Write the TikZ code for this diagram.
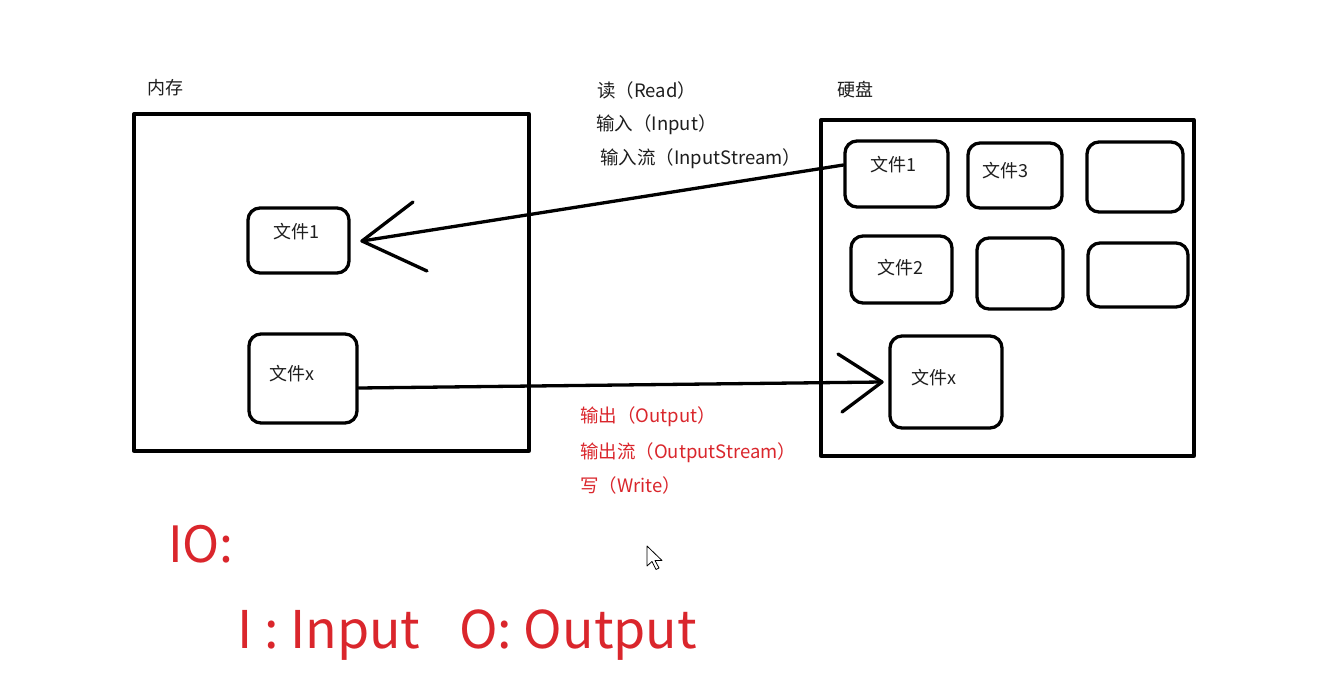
\documentclass[tikz,border=0pt]{standalone}
\usepackage{fontspec}
\setmainfont{Noto Sans CJK SC}
\definecolor{iored}{RGB}{218,38,44}
\definecolor{ink}{RGB}{30,30,30}
\begin{document}
\begin{tikzpicture}[x=1pt,y=-1pt, line join=round, line cap=round,
  frame/.style={draw=black, line width=3.3pt, inner sep=0pt},
  filebox/.style={draw=black, line width=3.3pt, rounded corners=12pt, inner sep=0pt},
  ftext/.style={font=\fontsize{18}{18}\selectfont, text=ink, inner sep=0pt},
  title/.style={font=\fontsize{18}{18}\selectfont, text=ink, inner sep=0pt},
  lbl/.style={font=\fontsize{18.5}{18.5}\selectfont, text=ink, inner sep=0pt, anchor=base west},
  rlbl/.style={lbl, text=iored},
  big/.style={font=\fontsize{52}{52}\selectfont, text=iored, anchor=base west, inner sep=0pt},
  conn/.style={line width=3.3pt}]
\useasboundingbox[fill=white] (0,0) rectangle (1331,685);

% frames
\node[frame, minimum width=395pt, minimum height=337pt] (mem) at (331.5,282.5) {};
\node[frame, minimum width=373pt, minimum height=336pt] (disk) at (1007.5,288) {};
\node[title] (memt) at (165,88) {内存};
\node[title] (diskt) at (855,90) {硬盘};

% memory files
\node[filebox, minimum width=101pt, minimum height=65pt] (mf1) at (298.5,240.5) {};
\node[ftext] (mf1t) at (296,232) {文件1};
\node[filebox, minimum width=108pt, minimum height=89pt] (mfx) at (303,378.5) {};
\node[ftext] (mfxt) at (292,374) {文件x};

% disk files
\node[filebox, minimum width=103pt, minimum height=66pt] (d1) at (896.5,174) {};
\node[ftext] (d1t) at (893,165) {文件1};
\node[filebox, minimum width=94pt, minimum height=65pt] (d3) at (1015,175.5) {};
\node[ftext] (d3t) at (1005,171) {文件3};
\node[filebox, minimum width=96pt, minimum height=70pt] (de1) at (1135,177) {};
\node[filebox, minimum width=101pt, minimum height=67pt] (d2) at (901.5,269.5) {};
\node[ftext] (d2t) at (900,268) {文件2};
\node[filebox, minimum width=86pt, minimum height=71pt] (de2) at (1020,273.5) {};
\node[filebox, minimum width=100pt, minimum height=64pt] (de3) at (1138,275) {};
\node[filebox, minimum width=112pt, minimum height=92pt] (dx) at (946,382) {};
\node[ftext] (dxt) at (934,378) {文件x};

% read connector
\coordinate (readtip) at (362,241);
\draw[conn] ([yshift=9pt]d1.west) -- (readtip);
\draw[conn] (readtip) -- ++(51,-39);
\draw[conn] (readtip) -- ++(65,30);

% write connector
\coordinate (writetip) at (882,382);
\draw[conn] ([yshift=-9.5pt]mfx.east) -- (writetip);
\draw[conn] (writetip) -- ++(-44,-28);
\draw[conn] (writetip) -- ++(-40,30);

% labels
\node[lbl] (l1) at (597,97) {读（Read）};
\node[lbl] (l2) at (596,130) {输入（Input）};
\node[lbl] (l3) at (600,164) {输入流（InputStream）};
\node[rlbl] (r1) at (580,422) {输出（Output）};
\node[rlbl] (r2) at (580,458) {输出流（OutputStream）};
\node[rlbl] (r3) at (580,492) {写（Write）};

% big text
\node[big, font=\fontsize{50}{50}\selectfont] (io) at (168,562) {IO:};
\node[big] (iin) at (237,648) {I : Input};
\node[big] (oout) at (459,648) {O: Output};

% mouse cursor
\draw[fill=white, line width=0.8pt] (647,546) -- ++(0,20) -- ++(5,-4.5) -- ++(4,8) -- ++(3,-1.5) -- ++(-4,-7.5) -- ++(7,0) -- cycle;
\end{tikzpicture}
\end{document}
